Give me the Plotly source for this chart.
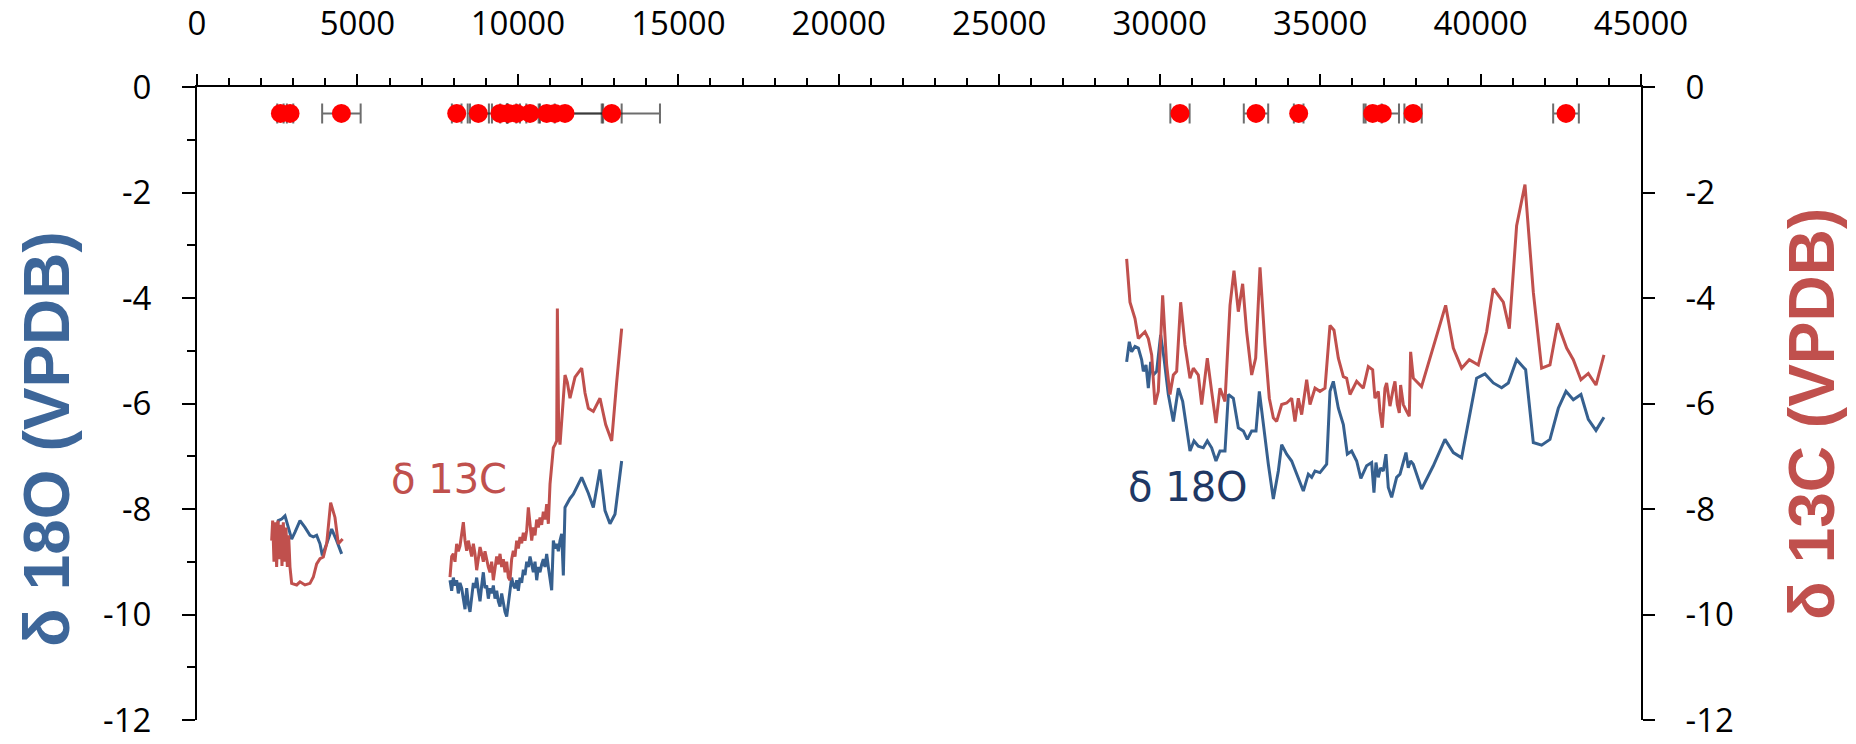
import plotly.graph_objects as go

# ---------------- data ----------------
# δ18O (left axis) and δ13C (right axis), age in years
o18_a_age = [2430, 2534, 2638, 2742, 2846, 2950, 3054, 3210, 3365, 3521, 3625, 3729,
             3833, 3906, 4041, 4197, 4332, 4508]
o18_a = [-8.63, -8.22, -8.19, -8.13, -8.35, -8.57, -8.44, -8.22, -8.35, -8.50, -8.53, -8.50,
         -8.66, -8.88, -8.66, -8.38, -8.57, -8.85]

c13_a_age = [2327, 2358, 2399, 2441, 2482, 2524, 2566, 2607, 2649, 2690, 2732, 2773, 2815,
             2856, 2898, 2950, 3106, 3210, 3365, 3521, 3625, 3729, 3833, 3937, 4041, 4165,
             4300, 4404, 4539]
c13_a = [-8.6, -8.22, -9.0, -8.25, -9.1, -8.22, -8.95, -8.3, -9.08, -8.25, -9.0, -8.35, -9.1,
         -8.5, -9.1, -9.41, -9.44, -9.38, -9.44, -9.41, -9.29, -9.04, -8.94, -8.91, -8.66,
         -7.88, -8.16, -8.66, -8.57]

o18_b_age = [7884, 7936, 7988, 8040, 8092, 8144, 8196, 8248, 8300, 8352, 8404, 8456, 8508,
             8560, 8612, 8664, 8716, 8768, 8820, 8872, 8923, 8975, 9027, 9079, 9131, 9183,
             9235, 9287, 9339, 9391, 9443, 9495, 9547, 9599, 9651, 9703, 9754, 9806, 9858,
             9910, 9962, 10014, 10066, 10118, 10170, 10222, 10274, 10326, 10378, 10430,
             10482, 10534, 10586, 10637, 10689, 10741, 10793, 10845, 10897, 10949, 11001,
             11053, 11105, 11157, 11209, 11261, 11313, 11365, 11416, 11468, 11624, 11728,
             11988, 12196, 12351, 12559, 12715, 12870, 13026, 13234]
o18_b = [-9.35, -9.55, -9.3, -9.45, -9.35, -9.6, -9.4, -9.5, -9.7, -9.9, -9.5, -9.8, -9.95,
         -9.6, -9.4, -9.5, -9.3, -9.55, -9.75, -9.45, -9.2, -9.5, -9.45, -9.7, -9.5, -9.6,
         -9.45, -9.7, -9.55, -9.75, -9.85, -9.6, -9.8, -9.95, -10.04, -9.8, -9.6, -9.3,
         -9.45, -9.5, -9.35, -9.55, -9.3, -9.4, -9.15, -9.25, -9.0, -9.1, -8.9, -9.05,
         -9.2, -9.0, -9.35, -9.1, -9.2, -9.05, -8.95, -9.1, -8.85, -9.1, -9.3, -9.54,
         -8.6, -8.75, -8.66, -8.8, -8.6, -8.47, -9.26, -7.97, -7.8, -7.72, -7.4, -7.7,
         -7.97, -7.25, -8.03, -8.28, -8.1, -7.09]

c13_b_age = [7884, 7936, 7988, 8040, 8092, 8144, 8196, 8248, 8300, 8352, 8404, 8456, 8508,
             8560, 8612, 8664, 8716, 8768, 8820, 8872, 8923, 8975, 9027, 9079, 9131, 9183,
             9235, 9287, 9339, 9391, 9443, 9495, 9547, 9599, 9651, 9703, 9754, 9806, 9858,
             9910, 9962, 10014, 10066, 10118, 10170, 10222, 10274, 10326, 10378, 10430,
             10482, 10534, 10586, 10637, 10689, 10741, 10793, 10845, 10897, 10949, 11001,
             11053, 11105, 11157, 11209, 11230, 11271, 11313, 11396, 11468, 11541, 11624,
             11780, 11988, 12092, 12196, 12351, 12559, 12736, 12923, 13078, 13234]
c13_b = [-9.29, -8.9, -8.85, -9.0, -8.66, -8.8, -8.7, -8.5, -8.25, -8.6, -8.79, -8.6, -8.75,
         -8.9, -8.66, -8.85, -9.16, -8.9, -8.72, -8.85, -9.0, -8.8, -8.97, -9.1, -9.2, -9.0,
         -9.35, -9.1, -8.9, -9.05, -8.85, -9.1, -8.95, -9.2, -9.0, -9.3, -9.35, -8.95,
         -8.79, -8.9, -8.6, -8.75, -8.53, -8.65, -8.45, -8.6, -8.41, -7.97, -8.3, -8.6,
         -8.35, -8.5, -8.2, -8.35, -8.16, -8.3, -8.05, -8.2, -7.91, -8.28, -7.53, -7.1,
         -6.84, -6.78, -6.71, -4.20, -6.5, -6.78, -6.0, -5.46, -5.6, -5.90, -5.5, -5.33,
         -5.8, -6.09, -6.15, -5.9, -6.4, -6.71, -5.6, -4.58]

o18_c_age = [28971, 29054, 29127, 29231, 29335, 29439, 29491, 29574, 29647, 29719, 29802,
             29906, 30031, 30135, 30270, 30426, 30582, 30717, 30945, 31070, 31205, 31361,
             31485, 31620, 31755, 31880, 32036, 32140, 32296, 32451, 32607, 32732, 32867,
             33002, 33106, 33230, 33386, 33542, 33698, 33802, 33958, 34113, 34269, 34477,
             34633, 34737, 34841, 34996, 35204, 35308, 35412, 35568, 35724, 35848, 35983,
             36139, 36270, 36450, 36606, 36678, 36741, 36813, 36886, 36969, 37052, 37125,
             37229, 37385, 37489, 37676, 37748, 37821, 37904, 38164, 38528, 38891, 39151,
             39410, 39878, 40138, 40397, 40657, 40865, 41124, 41405, 41644, 41903, 42163,
             42423, 42662, 42890, 43129, 43358, 43597, 43846]
o18_c = [-5.21, -4.83, -5.02, -4.92, -4.95, -5.17, -5.39, -5.27, -5.71, -5.21, -5.46, -5.39,
         -4.70, -5.14, -5.83, -6.34, -5.71, -5.96, -6.90, -6.71, -6.81, -6.84, -6.71, -6.84,
         -7.09, -6.90, -6.90, -5.83, -5.90, -6.46, -6.52, -6.68, -6.52, -6.52, -5.77, -6.40,
         -7.15, -7.81, -7.28, -6.78, -6.96, -7.09, -7.34, -7.66, -7.34, -7.40, -7.28, -7.31,
         -7.15, -5.77, -5.58, -6.09, -6.40, -6.96, -6.90, -7.09, -7.42, -7.18, -7.12, -7.69,
         -7.12, -7.40, -7.22, -7.28, -6.96, -7.59, -7.78, -7.40, -7.34, -6.93, -7.22, -7.09,
         -7.15, -7.62, -7.18, -6.68, -6.93, -7.03, -5.52, -5.44, -5.61, -5.70, -5.61, -5.17,
         -5.36, -6.74, -6.79, -6.68, -6.09, -5.77, -5.93, -5.83, -6.30, -6.51, -6.26]

c13_c_age = [28971, 29075, 29231, 29335, 29439, 29543, 29647, 29751, 29854, 29958, 30093,
             30218, 30322, 30426, 30530, 30654, 30789, 30945, 31049, 31205, 31309, 31485,
             31620, 31755, 31880, 32036, 32192, 32316, 32451, 32586, 32711, 32867, 32992,
             33127, 33282, 33417, 33542, 33646, 33802, 33958, 34113, 34217, 34321, 34425,
             34581, 34685, 34841, 34996, 35152, 35308, 35433, 35568, 35724, 35827, 35931,
             36139, 36346, 36502, 36637, 36709, 36813, 36865, 36938, 37021, 37073, 37177,
             37281, 37333, 37405, 37468, 37509, 37592, 37696, 37779, 37821, 37904, 38160,
             38423, 38912, 39151, 39410, 39649, 39930, 40189, 40397, 40709, 40896, 41124,
             41384, 41644, 41903, 42163, 42402, 42683, 42890, 43129, 43358, 43597, 43846]
c13_c = [-3.26, -4.08, -4.39, -4.77, -4.70, -4.64, -4.77, -5.08, -6.02, -5.77, -3.95, -5.27,
         -5.83, -5.46, -5.39, -4.08, -4.89, -5.52, -5.33, -5.46, -6.02, -5.14, -5.77, -6.37,
         -5.71, -5.96, -4.14, -3.48, -4.26, -3.73, -4.64, -5.46, -5.14, -3.42, -4.89, -5.90,
         -6.27, -6.34, -6.02, -5.99, -5.90, -6.34, -5.90, -6.21, -5.55, -6.02, -5.71, -5.77,
         -5.71, -4.52, -4.61, -5.14, -5.49, -5.52, -5.83, -5.58, -5.71, -5.30, -5.36, -5.90,
         -5.77, -6.15, -6.46, -5.71, -5.61, -6.05, -5.71, -5.58, -6.02, -6.18, -5.65, -6.02,
         -6.15, -6.24, -5.02, -5.52, -5.68, -5.14, -4.14, -4.95, -5.33, -5.17, -5.27, -4.64,
         -3.82, -4.08, -4.58, -2.63, -1.85, -3.89, -5.33, -5.27, -4.48, -4.95, -5.17, -5.55,
         -5.43, -5.65, -5.08]

# U-Th dates with 2-sigma errors
date_age = [2600, 2900, 4500, 8093, 8767, 9442, 9701, 9962, 10377, 10897, 11156, 11468,
            12923, 30633, 33002, 34332, 36638, 36938, 37897, 42663]
date_err = [100, 100, 600, 150, 330, 250, 250, 300, 312, 250, 1500, 2960,
            311, 300, 380, 150, 280, 520, 270, 400]
date_level = -0.5

x_tick_vals = [0, 5000, 10000, 15000, 20000, 25000, 30000, 35000, 40000, 45000]
x_tick_text = ["0", "5000", "10000", "15000", "20000", "25000", "30000", "35000", "40000", "45000"]
y_tick_vals = [0, -2, -4, -6, -8, -10, -12]
y_tick_text = ["0", "-2", "-4", "-6", "-8", "-10", "-12"]

for a, b in [(o18_a_age, o18_a), (c13_a_age, c13_a), (o18_b_age, o18_b), (c13_b_age, c13_b),
             (o18_c_age, o18_c), (c13_c_age, c13_c), (date_age, date_err)]:
    assert len(a) == len(b), (len(a), len(b))

BLUE = "#36608F"
RED = "#C0504D"

fig = go.Figure()

for ages, vals in [(o18_a_age, o18_a), (o18_b_age, o18_b), (o18_c_age, o18_c)]:
    fig.add_trace(go.Scatter(x=ages, y=vals, mode="lines", yaxis="y",
                             line=dict(color=BLUE, width=3), showlegend=False,
                             hoverinfo="skip"))
for ages, vals in [(c13_a_age, c13_a), (c13_b_age, c13_b), (c13_c_age, c13_c)]:
    fig.add_trace(go.Scatter(x=ages, y=vals, mode="lines", yaxis="y2",
                             line=dict(color=RED, width=3), showlegend=False,
                             hoverinfo="skip"))

fig.add_trace(go.Scatter(
    x=date_age, y=[date_level] * len(date_age), mode="markers", yaxis="y",
    marker=dict(color="#FF0000", size=19, line=dict(width=0)),
    error_x=dict(type="data", array=date_err, symmetric=True,
                 color="rgba(30,30,30,0.65)", thickness=2, width=10),
    showlegend=False, hoverinfo="skip"))

axis_common = dict(showgrid=False, zeroline=False, showline=True, linecolor="black",
                   linewidth=2, ticks="outside", tickwidth=2, tickcolor="black",
                   automargin=False, ticklabeloverflow="allow",
                   tickfont=dict(family="Open Sans", size=33, color="black"))

fig.update_layout(
    width=1856, height=744,
    margin=dict(l=197, r=215, t=87, b=24, pad=0, autoexpand=False),
    paper_bgcolor="white", plot_bgcolor="white",
    showlegend=False,
    xaxis=dict(range=[0, 45000], side="top", tickmode="array", tickvals=x_tick_vals,
               ticktext=x_tick_text, ticklen=11, ticklabelstandoff=26,
               minor=dict(ticks="outside", tick0=0, dtick=1000, ticklen=7, tickwidth=2,
                          tickcolor="black", showgrid=False),
               **axis_common),
    yaxis=dict(range=[-12, 0], tickmode="array", tickvals=y_tick_vals, ticktext=y_tick_text,
               ticklen=13, ticklabelstandoff=24,
               minor=dict(ticks="outside", tick0=0, dtick=1, ticklen=8, tickwidth=2,
                          tickcolor="black", showgrid=False),
               **axis_common),
    yaxis2=dict(range=[-12, 0], overlaying="y", side="right", tickmode="array",
                tickvals=y_tick_vals, ticktext=y_tick_text, ticklen=12,
                ticklabelstandoff=24, **axis_common),
    annotations=[
        dict(text="<b>δ 18O (VPDB)</b>", xref="paper", yref="paper", x=-0.1039, y=0.444,
             textangle=-90, showarrow=False, xanchor="center", yanchor="middle",
             font=dict(family="Liberation Sans", size=64, color="#3D6699")),
        dict(text="<b>δ 13C (VPDB)</b>", xref="paper", yref="paper", x=1.1184, y=0.4835,
             textangle=-90, showarrow=False, xanchor="center", yanchor="middle",
             font=dict(family="Liberation Sans", size=64, color=RED)),
        dict(text="δ 13C", xref="x", yref="y", x=7853, y=-7.43, showarrow=False,
             xanchor="center", yanchor="middle",
             font=dict(family="DejaVu Sans", size=40, color=RED)),
        dict(text="δ 18O", xref="x", yref="y", x=30883, y=-7.59, showarrow=False,
             xanchor="center", yanchor="middle",
             font=dict(family="DejaVu Sans", size=40, color="#1F3864")),
    ],
)

fig.write_html("out.html")
